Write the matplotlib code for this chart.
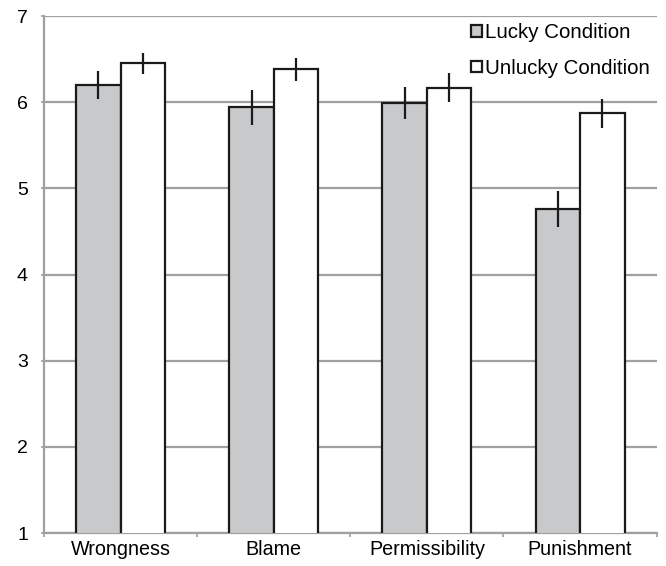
import numpy as np
import matplotlib.pyplot as plt
from matplotlib.ticker import FixedLocator, NullFormatter

plt.rcParams['font.family'] = ['Liberation Sans', 'DejaVu Sans']

categories = ["Wrongness", "Blame", "Permissibility", "Punishment"]
lucky = [6.20, 5.94, 5.99, 4.76]
lucky_err = [0.16, 0.20, 0.185, 0.21]
unlucky = [6.45, 6.38, 6.17, 5.87]
unlucky_err = [0.125, 0.135, 0.165, 0.17]

fig = plt.figure(figsize=(6.66, 5.66), dpi=100)
ax = fig.add_axes([0.066, 0.0583, 0.92, 0.9134])

x = np.arange(len(categories))
w = 0.29
ax.bar(x - w / 2, lucky, w, bottom=0, color="#c8c9cb", edgecolor="#1a1a1a",
       linewidth=1.6, label="Lucky Condition", zorder=3)
ax.bar(x + w / 2, unlucky, w, bottom=0, color="white", edgecolor="#1a1a1a",
       linewidth=1.6, label="Unlucky Condition", zorder=3)
ax.errorbar(x - w / 2, lucky, yerr=lucky_err, fmt="none", ecolor="#1a1a1a",
            elinewidth=1.6, capsize=0, zorder=4)
ax.errorbar(x + w / 2, unlucky, yerr=unlucky_err, fmt="none", ecolor="#1a1a1a",
            elinewidth=1.6, capsize=0, zorder=4)

ax.set_xlim(-0.5, len(categories) - 0.5)
ax.set_ylim(1, 7)
ax.set_yticks(range(1, 8))
ax.set_xticks(x)
ax.set_xticklabels(categories)
ax.xaxis.set_minor_locator(FixedLocator(np.arange(-0.5, len(categories), 1.0)))
ax.xaxis.set_minor_formatter(NullFormatter())
ax.tick_params(axis="x", which="major", length=0, pad=5, labelsize=14.2)
ax.tick_params(axis="x", which="minor", length=3, color="#a0a0a0", width=1.2)
ax.tick_params(axis="y", length=2.5, color="#a0a0a0", width=1.2, pad=9, labelsize=14)

ax.yaxis.grid(True, color="#a0a0a0", linewidth=1.6, zorder=0)
ax.set_axisbelow(True)
for side in ["top", "right"]:
    ax.spines[side].set_visible(False)
for side in ["left", "bottom"]:
    ax.spines[side].set_color("#a0a0a0")
    ax.spines[side].set_linewidth(1.6)

leg = ax.legend(loc="upper right", bbox_to_anchor=(1.0, 1.0), frameon=False,
                fontsize=14.8, handlelength=0.5, handleheight=0.5,
                handletextpad=0.15, labelspacing=0.8, borderaxespad=0.2,
                borderpad=0.15)

fig.savefig("out.png", dpi=100)
